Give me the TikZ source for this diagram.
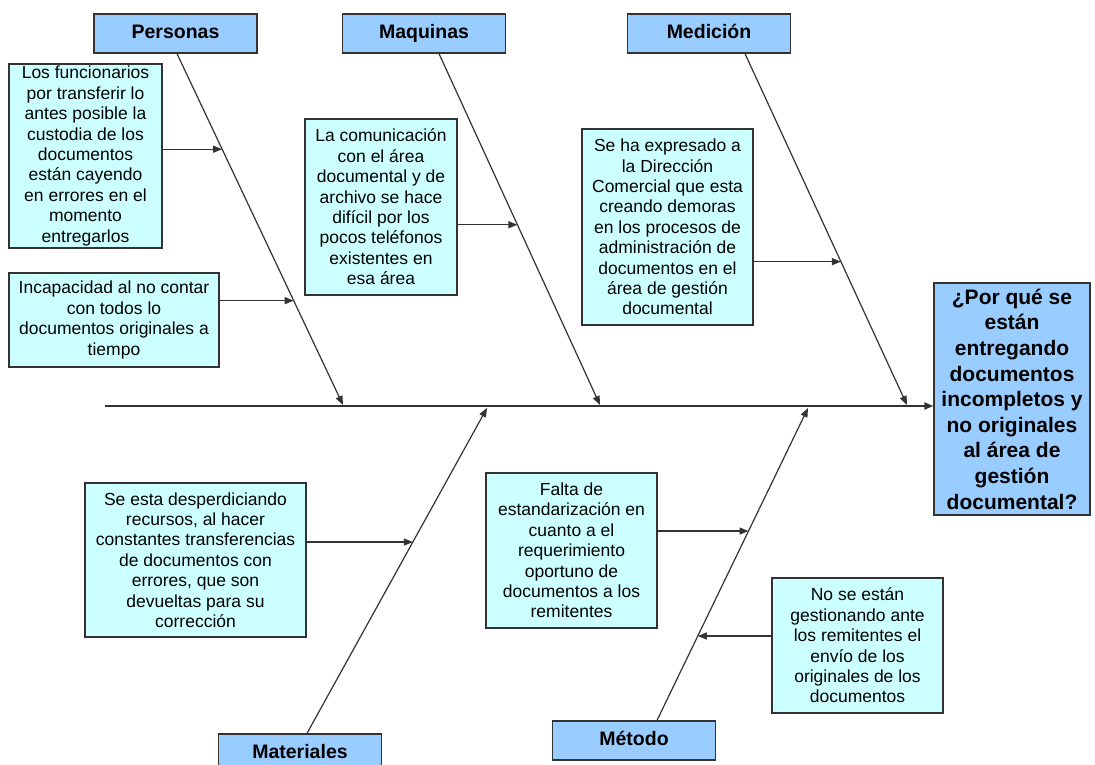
\documentclass[tikz,border=0pt]{standalone}
\usepackage{fontspec}
\setmainfont{Liberation Sans}
\usetikzlibrary{arrows.meta, positioning}

\definecolor{headblue}{HTML}{99CCFF}
\definecolor{causecyan}{HTML}{CCFFFF}
\definecolor{edgegray}{HTML}{333333}

\tikzset{
  header/.style={draw=edgegray, line width=1.3pt, fill=headblue, minimum width=163pt, minimum height=39pt,
    inner sep=0pt, text height=14pt, text depth=4pt, font=\fontsize{19.5}{23}\selectfont\bfseries},
  cause/.style={draw=edgegray, line width=1.3pt, fill=causecyan, inner sep=2pt, align=center,
    font=\fontsize{17.5}{20.4}\selectfont},
  effect/.style={draw=edgegray, line width=1.3pt, fill=headblue, minimum width=156pt, minimum height=232pt,
    inner sep=2pt, align=center, font=\fontsize{21}{25.6}\selectfont\bfseries},
  bone/.style={draw=edgegray, line width=1.2pt},
  spine/.style={draw=edgegray, line width=2pt}
}

\begin{document}
\begin{tikzpicture}[x=1pt, y=-1pt, >={Triangle[length=9pt, width=7pt]}]
  \useasboundingbox (0,0) rectangle (1095,765);
  \clip (0,0) rectangle (1095,765);
  \fill [white] (0,0) rectangle (1095,765);

  \node [header] (personas) at (175.5,33.5) {Personas};
  \node [header] (maquinas) at (424,33.5) {Maquinas};
  \node [header] (medicion) at (709,33.5) {Medición};
  \node [header] (materiales) at (300,753.5) {Materiales};
  \node [header] (metodo) at (634,740.5) {Método};

  \node [effect] (problema) at (1012,399) {¿Por qué se\\ están\\ entregando\\ documentos\\ incompletos y\\ no originales\\ al área de\\ gestión\\ documental?};

  \node [cause, minimum width=153pt, minimum height=184pt] (funcionarios) at (85.5,156)
    {Los funcionarios\\ por transferir lo\\ antes posible la\\ custodia de los\\ documentos\\ están cayendo\\ en errores en el\\ momento\\ entregarlos};
  \node [cause, minimum width=210pt, minimum height=94pt] (incapacidad) at (114,320)
    {Incapacidad al no contar\\ con todos lo\\ documentos originales a\\ tiempo};
  \node [cause, minimum width=152pt, minimum height=176pt] (comunicacion) at (381,207)
    {La comunicación\\ con el área\\ documental y de\\ archivo se hace\\ difícil por los\\ pocos teléfonos\\ existentes en\\ esa área};
  \node [cause, minimum width=171pt, minimum height=196pt] (expresado) at (667.5,227)
    {Se ha expresado a\\ la Dirección\\ Comercial que esta\\ creando demoras\\ en los procesos de\\ administración de\\ documentos en el\\ área de gestión\\ documental};
  \node [cause, minimum width=221pt, minimum height=154pt] (desperdicio) at (195.5,560)
    {Se esta desperdiciando\\ recursos, al hacer\\ constantes transferencias\\ de documentos con\\ errores, que son\\ devueltas para su\\ corrección};
  \node [cause, minimum width=171pt, minimum height=155pt] (estandar) at (571.5,550.5)
    {Falta de\\ estandarización en\\ cuanto a el\\ requerimiento\\ oportuno de\\ documentos a los\\ remitentes};
  \node [cause, minimum width=171pt, minimum height=135pt] (remitentes) at (857.5,645.5)
    {No se están\\ gestionando ante\\ los remitentes el\\ envío de los\\ originales de los\\ documentos};

  \coordinate (cola) at (105,406);
  \coordinate (s1) at (343,405);
  \coordinate (s2) at (600,405);
  \coordinate (s3) at (907,405);
  \coordinate (s4) at (487,408);
  \coordinate (s5) at (808,408);

  \draw [spine, ->] (cola) -- (cola -| problema.west);

  \draw [bone, ->] ([xshift=1.5pt]personas.south) -- coordinate[pos=0.272] (p1) coordinate[pos=0.703] (p2) (s1);
  \draw [bone, ->] ([xshift=15pt]maquinas.south) -- coordinate[pos=0.487] (p3) (s2);
  \draw [bone, ->] ([xshift=36pt]medicion.south) -- coordinate[pos=0.592] (p4) (s3);
  \draw [bone, ->] ([xshift=7pt]materiales.north) -- coordinate[pos=0.588] (p5) (s4);
  \draw [bone, ->] ([xshift=23pt]metodo.north) -- coordinate[pos=0.606] (p6) coordinate[pos=0.270] (p7) (s5);

  \draw [bone, ->] (funcionarios.east |- p1) -- (p1);
  \draw [bone, ->] (incapacidad.east |- p2) -- (p2);
  \draw [bone, ->] (comunicacion.east |- p3) -- (p3);
  \draw [bone, ->] (expresado.east |- p4) -- (p4);
  \draw [bone, ->] (desperdicio.east |- p5) -- (p5);
  \draw [bone, ->] (estandar.east |- p6) -- (p6);
  \draw [bone, ->] (remitentes.west |- p7) -- (p7);
\end{tikzpicture}
\end{document}
